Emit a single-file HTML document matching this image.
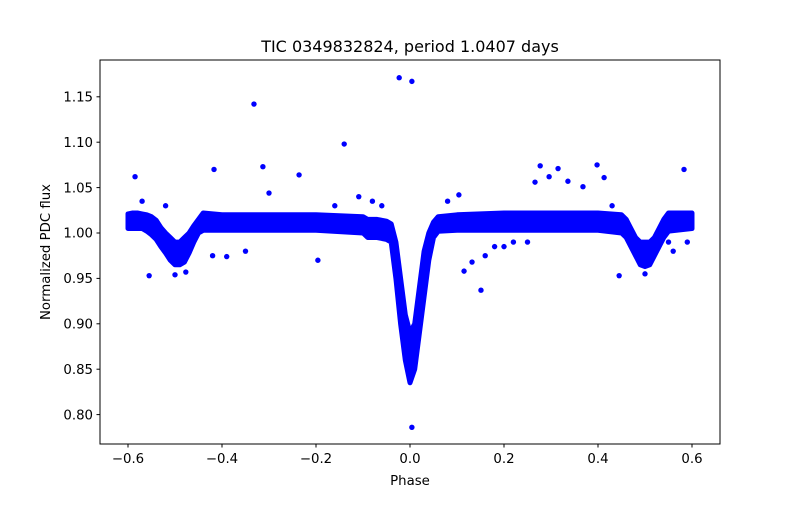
<!DOCTYPE html>
<html><head><meta charset="utf-8"><style>
body{margin:0;background:#fff;}
svg text{font-family:"DejaVu Sans","Liberation Sans",sans-serif;fill:#000;}
</style></head><body>
<svg id="chart" width="800" height="500" xmlns="http://www.w3.org/2000/svg">
<rect width="800" height="500" fill="#fff"/>
<text x="410" y="52" font-size="16" text-anchor="middle">TIC 0349832824, period 1.0407 days</text>
<g id="marks"></g>
<rect x="100" y="60" width="620" height="384" fill="none" stroke="#000" stroke-width="1"/>
<g id="xticks"></g>
<g id="yticks"></g>
<text x="410" y="485" font-size="13.3" text-anchor="middle">Phase</text>
<text transform="translate(50,252) rotate(-90)" font-size="13.3" text-anchor="middle">Normalized PDC flux</text>
</svg>
<script>
const phases=[-0.6,-0.59,-0.58,-0.57,-0.56,-0.55,-0.54,-0.53,-0.52,-0.51,-0.5,-0.49,-0.48,-0.47,-0.46,-0.45,-0.44,-0.4,-0.3,-0.2,-0.1,-0.09,-0.07,-0.05,-0.04,-0.03,-0.02,-0.01,0,0.01,0.02,0.03,0.04,0.05,0.06,0.1,0.2,0.3,0.4,0.45,0.46,0.47,0.48,0.49,0.5,0.51,0.52,0.53,0.54,0.55,0.6];
const fluxHigh=[1.021,1.022,1.022,1.021,1.02,1.018,1.014,1.006,1.0,0.995,0.99,0.99,0.995,1.0,1.008,1.015,1.022,1.02,1.02,1.02,1.018,1.015,1.015,1.013,1.01,0.99,0.95,0.91,0.89,0.9,0.94,0.98,1.0,1.012,1.018,1.02,1.022,1.022,1.022,1.02,1.015,1.005,0.995,0.99,0.99,0.99,0.995,1.005,1.015,1.022,1.022];
const fluxLow=[1.005,1.005,1.005,1.005,1.002,0.998,0.993,0.985,0.978,0.97,0.965,0.965,0.968,0.978,0.99,1.0,1.003,1.003,1.003,1.003,1.0,0.995,0.995,0.993,0.99,0.95,0.9,0.86,0.835,0.85,0.89,0.93,0.97,0.995,1.002,1.003,1.003,1.003,1.003,1.0,0.995,0.985,0.975,0.965,0.963,0.965,0.975,0.985,0.995,1.002,1.005];
const outPhase=[-0.585,-0.023,0.004,-0.332,-0.14,-0.313,-0.417,-0.30,-0.236,-0.109,0.004,0.277,0.315,0.398,0.266,0.296,0.336,0.368,0.413,0.104,0.583,-0.555,0.115,0.151,0.132,0.445,-0.196,0.5,-0.5,-0.477,-0.57,-0.52,-0.42,-0.35,-0.16,-0.08,-0.06,0.08,0.2,0.25,0.43,0.56,0.59,-0.39,0.16,0.18,0.22,0.55];
const outFlux=[1.062,1.171,1.167,1.142,1.098,1.073,1.070,1.044,1.064,1.040,0.786,1.074,1.071,1.075,1.056,1.062,1.057,1.051,1.061,1.042,1.070,0.953,0.958,0.937,0.968,0.953,0.970,0.955,0.954,0.957,1.035,1.03,0.975,0.98,1.03,1.035,1.03,1.035,0.985,0.99,1.03,0.98,0.99,0.974,0.975,0.985,0.99,0.99];
const xTicks=[-0.6,-0.4,-0.2,0.0,0.2,0.4,0.6];
const xTickLabels=["\u22120.6","\u22120.4","\u22120.2","0.0","0.2","0.4","0.6"];
const yTicks=[0.80,0.85,0.90,0.95,1.00,1.05,1.10,1.15];
const yTickLabels=["0.80","0.85","0.90","0.95","1.00","1.05","1.10","1.15"];
const X=p=>410+p*470;
const Y=f=>233+(1-f)*908;
const NS="http://www.w3.org/2000/svg";
const marks=document.getElementById('marks');
let pts=[];
for(let i=0;i<phases.length;i++)pts.push(X(phases[i]).toFixed(1)+','+Y(fluxHigh[i]).toFixed(1));
for(let i=phases.length-1;i>=0;i--)pts.push(X(phases[i]).toFixed(1)+','+Y(fluxLow[i]).toFixed(1));
const band=document.createElementNS(NS,'polygon');
band.setAttribute('points',pts.join(' '));
band.setAttribute('fill','#0000ff');band.setAttribute('stroke','#0000ff');
band.setAttribute('stroke-width','5');band.setAttribute('stroke-linejoin','round');


marks.appendChild(band);
for(let i=0;i<outPhase.length;i++){
 const c=document.createElementNS(NS,'circle');
 c.setAttribute('cx',X(outPhase[i]));c.setAttribute('cy',Y(outFlux[i]));
 c.setAttribute('r','2.7');c.setAttribute('fill','#0000ff');
 
 
 marks.appendChild(c);
}
const xg=document.getElementById('xticks');
xTicks.forEach((t,i)=>{
 const l=document.createElementNS(NS,'line');
 l.setAttribute('x1',X(t));l.setAttribute('x2',X(t));l.setAttribute('y1',444);l.setAttribute('y2',447.5);l.setAttribute('stroke','#000');
 
 
 xg.appendChild(l);
 const tx=document.createElementNS(NS,'text');
 tx.setAttribute('x',X(t));tx.setAttribute('y',463);tx.setAttribute('font-size','13.3');tx.setAttribute('text-anchor','middle');
 tx.textContent=xTickLabels[i];
 
 
 xg.appendChild(tx);
});
const yg=document.getElementById('yticks');
yTicks.forEach((t,i)=>{
 const l=document.createElementNS(NS,'line');
 l.setAttribute('x1',96.5);l.setAttribute('x2',100);l.setAttribute('y1',Y(t));l.setAttribute('y2',Y(t));l.setAttribute('stroke','#000');
 
 
 yg.appendChild(l);
 const tx=document.createElementNS(NS,'text');
 tx.setAttribute('x',93);tx.setAttribute('y',Y(t)+4.7);tx.setAttribute('font-size','13.3');tx.setAttribute('text-anchor','end');
 tx.textContent=yTickLabels[i];
 
 
 yg.appendChild(tx);
});
</script>
</body></html>
